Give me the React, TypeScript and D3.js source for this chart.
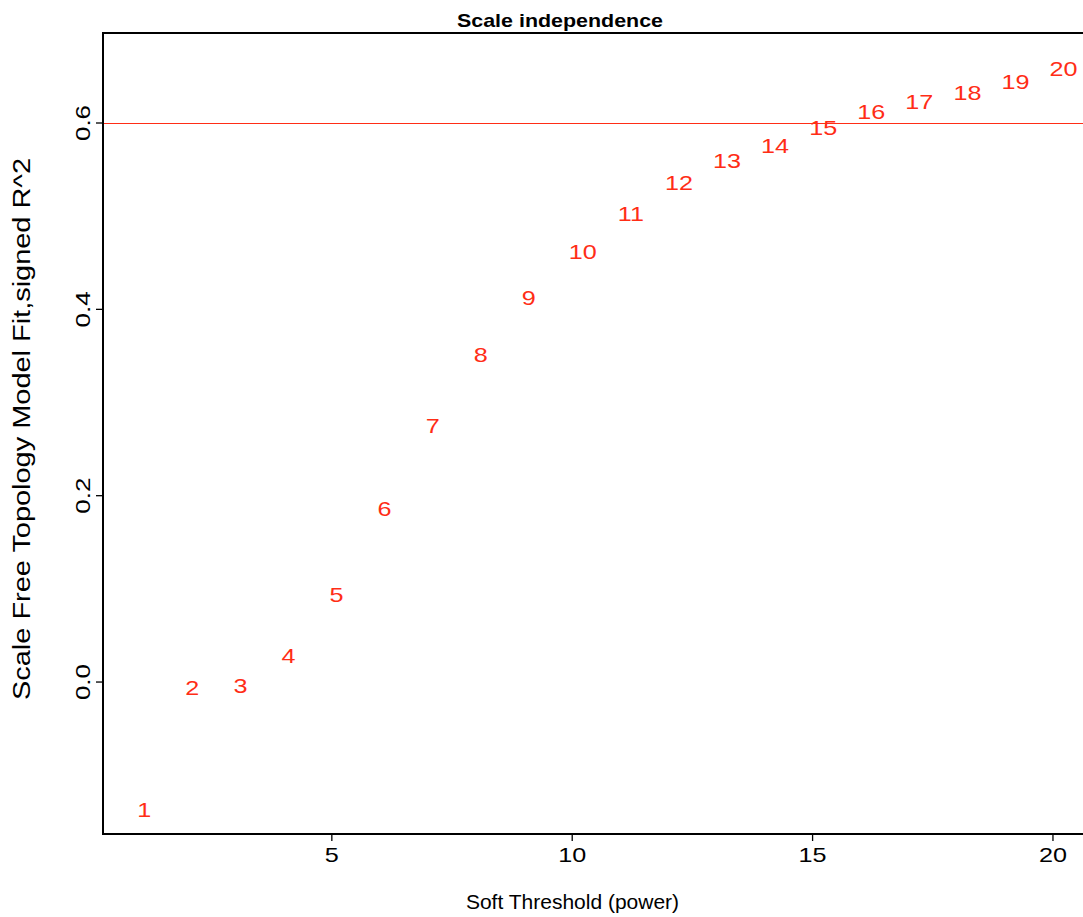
import React from "react";
import * as d3 from "d3";

const powers = [1, 2, 3, 4, 5, 6, 7, 8, 9, 10, 11, 12, 13, 14, 15, 16, 17, 18, 19, 20];
const signedR2 = [
  -0.1374, -0.0057, -0.004, 0.0279, 0.0941, 0.1864, 0.2751, 0.3517, 0.4125, 0.4615,
  0.5023, 0.5353, 0.5592, 0.5757, 0.5954, 0.6118, 0.6229, 0.6325, 0.644, 0.658,
];
const xTicks = [5, 10, 15, 20];
const yTicks = [0.0, 0.2, 0.4, 0.6];
const cutoff = 0.6;
const title = "Scale independence";
const xLabel = "Soft Threshold (power)";
const yLabel = "Scale Free Topology Model Fit,signed R^2";

const W = 1083;
const H = 917;
const RED = "#ff2d16";
const FONT = "'Liberation Sans', Arial, Helvetica, sans-serif";
const STRETCH = 1.26;

export default function App() {
  const xPad = (d3.max(powers)! - d3.min(powers)!) * 0.04;
  const x = d3
    .scaleLinear()
    .domain([d3.min(powers)! - xPad, d3.max(powers)! + xPad])
    .range([103, 1089.5]);
  const y = d3.scaleLinear().domain([-0.1631, 0.6966]).range([834, 33]);

  const [x0, x1] = x.range();
  const [yb, yt] = y.range();

  return (
    <svg
      width={W}
      height={H}
      style={{ position: "absolute", left: 0, top: 0, background: "#fff" }}
      fontFamily={FONT}
    >
      <rect x={0} y={0} width={W} height={H} fill="#fff" />
      {/* cutoff line */}
      <line
        x1={x0}
        x2={x1}
        y1={y(cutoff) + 0.5}
        y2={y(cutoff) + 0.5}
        stroke={RED}
        strokeWidth={1}
        shapeRendering="crispEdges"
      />
      {/* box */}
      <rect
        x={x0}
        y={yt}
        width={x1 - x0}
        height={yb - yt}
        fill="none"
        stroke="#000"
        strokeWidth={2}
      />
      {/* x ticks */}
      {xTicks.map((t) => (
        <g key={"xt" + t}>
          <line x1={x(t)} x2={x(t)} y1={yb} y2={yb + 7} stroke="#000" strokeWidth={1.3} />
          <text
            transform={`translate(${x(t)},862) scale(${STRETCH},1)`}
            textAnchor="middle"
            fontSize={20}
            fill="#000"
          >
            {t}
          </text>
        </g>
      ))}
      {/* y ticks */}
      {yTicks.map((t) => (
        <g key={"yt" + t}>
          <line x1={x0 - 7} x2={x0} y1={y(t)} y2={y(t)} stroke="#000" strokeWidth={1.3} />
          <text
            transform={`translate(90,${y(t)}) rotate(-90) scale(1.3,1)`}
            textAnchor="middle"
            fontSize={20}
            fill="#000"
          >
            {t.toFixed(1)}
          </text>
        </g>
      ))}
      {/* point labels */}
      {powers.map((p, i) => {
        const shift = String(p).length === 1 ? 4.7 : 10.6;
        return (
          <text
            key={"p" + p}
            transform={`translate(${x(p) + shift},${y(signedR2[i])}) scale(${STRETCH},1)`}
            dy="0.36em"
            textAnchor="middle"
            fontSize={20}
            fill={RED}
          >
            {p}
          </text>
        );
      })}
      {/* title */}
      <text
        x={560}
        y={27}
        textAnchor="middle"
        fontSize={19}
        fontWeight="bold"
        fill="#000"
        textLength={206}
        lengthAdjust="spacingAndGlyphs"
      >
        {title}
      </text>
      {/* axis labels */}
      <text x={572.5} y={909} textAnchor="middle" fontSize={21} fill="#000">
        {xLabel}
      </text>
      <text
        transform={`translate(30,429) rotate(-90)`}
        textAnchor="middle"
        fontSize={23}
        fill="#000"
        textLength={542}
        lengthAdjust="spacingAndGlyphs"
      >
        {yLabel}
      </text>
    </svg>
  );
}
